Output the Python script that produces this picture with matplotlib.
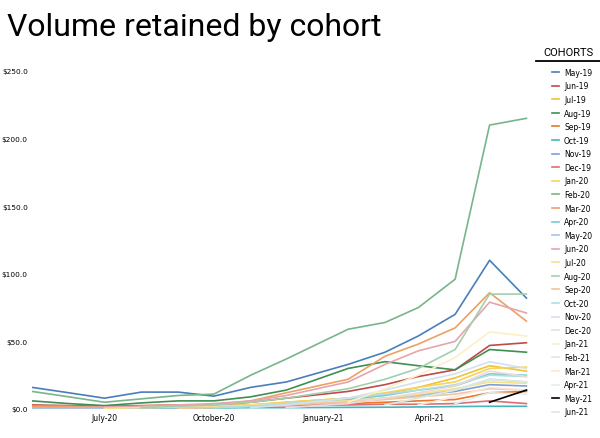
import matplotlib
matplotlib.use("Agg")
import matplotlib.pyplot as plt
from matplotlib.lines import Line2D
import numpy as np
import pandas as pd

# snapshot dates (x axis)
dates = pd.to_datetime([
    "2020-05-01", "2020-06-01", "2020-07-01", "2020-08-01", "2020-09-01",
    "2020-10-01", "2020-11-01", "2020-12-01", "2021-01-22", "2021-02-22",
    "2021-03-22", "2021-04-22", "2021-05-21", "2021-06-21",
])

cohorts = [
    "May-19", "Jun-19", "Jul-19", "Aug-19", "Sep-19", "Oct-19", "Nov-19",
    "Dec-19", "Jan-20", "Feb-20", "Mar-20", "Apr-20", "May-20", "Jun-20",
    "Jul-20", "Aug-20", "Sep-20", "Oct-20", "Nov-20", "Dec-20", "Jan-21",
    "Feb-21", "Mar-21", "Apr-21", "May-21", "Jun-21",
]

colors = [
    "#4a7ebb", "#be4b48", "#f1c232", "#3f8f52", "#e8762c", "#45b5bc",
    "#7e9fd8", "#e06c75", "#f4d35e", "#79b58a", "#eea062", "#7cc9cf",
    "#a7c4e2", "#e6a4ab", "#f7e08c", "#a3cfae", "#f2c4a0", "#b2dee0",
    "#d5e0ef", "#ecdadb", "#fbf0c5", "#dcebdd", "#fbe6d5", "#dff0f1",
    "#000000", "#e4e4e4",
]

N = None
# volume retained ($) per cohort at each date
may19 = [16, 12, 8, 12.5, 12.5, 9.5, 16, 20, 33, 42, 54, 70, 110, 82]
jun19 = [3, 2.5, 2, 2.5, 3, 3, 5, 8, 13, 18, 24, 29, 47, 49]
jul19 = [1, 1, 1, 1.5, 2, 2, 3, 5, 8, 11, 16, 23, 32, 28]
aug19 = [6, 4, 2.5, 4.5, 6, 6, 9, 14, 30, 35, 32, 29, 44, 42]
sep19 = [2.5, 2, 1.5, 1.5, 2, 2.5, 3, 3.5, 4, 5, 6, 7, 12, 13]
oct19 = [1, 0.8, 0.6, 0.7, 0.8, 0.8, 1, 1, 1.2, 1.3, 1.5, 1.8, 2, 2]
nov19 = [1, 1, 0.5, 1, 1.5, 1.5, 2, 3, 5, 8, 10, 13, 18, 17]
dec19 = [2, 1.5, 1, 1.2, 1.5, 1.5, 2, 2.5, 3, 3.5, 3.5, 4, 6, 4]
jan20 = [0.5, 0.5, 0.5, 1, 1.5, 2, 3, 5, 8, 12, 16, 20, 30, 31]
feb20 = [13, 9, 5, 7.5, 10, 11, 25, 37, 59, 64, 75, 96, 210, 215]
mar20 = [2, 2, 1, 2, 3, 3, 6, 12, 22, 39, 48, 60, 86, 65]
apr20 = [0.5, 0.5, 0.5, 1, 1, 1.5, 2, 4, 7, 10, 14, 17, 26, 25]
may20 = [0.5, 0.5, 0.5, 0.8, 1, 1.5, 2, 3, 6, 8, 10, 14, 22, 20]
jun20 = [N, 1, 1.5, 2, 3, 4, 6, 10, 20, 33, 43, 50, 79, 71]
jul20 = [N, N, 0.5, 1, 1.5, 2, 3, 4, 6, 8, 11, 15, 20, 19]
aug20 = [N, N, N, 1, 2, 3, 5, 8, 15, 22, 30, 44, 85, 85]
sep20 = [N, N, N, N, 0.5, 1, 2, 3, 5, 7, 9, 11, 15, 14]
oct20 = [N, N, N, N, N, 1, 2, 4, 8, 11, 14, 18, 25, 24]
nov20 = [N, N, N, N, N, N, 1, 3, 8, 14, 20, 26, 35, 30]
dec20 = [N, N, N, N, N, N, N, 1, 4, 8, 12, 17, 28, 24]
jan21 = [N, N, N, N, N, N, N, N, 5, 15, 25, 38, 57, 54]
feb21 = [N, N, N, N, N, N, N, N, N, 3, 8, 14, 22, 20]
mar21 = [N, N, N, N, N, N, N, N, N, N, 3, 9, 16, 14]
apr21 = [N, N, N, N, N, N, N, N, N, N, N, 4, 12, 11]
may21 = [N, N, N, N, N, N, N, N, N, N, N, N, 5, 14]
jun21 = [N, N, N, N, N, N, N, N, N, N, N, N, N, 3]

series = [may19, jun19, jul19, aug19, sep19, oct19, nov19, dec19, jan20,
          feb20, mar20, apr20, may20, jun20, jul20, aug20, sep20, oct20,
          nov20, dec20, jan21, feb21, mar21, apr21, may21, jun21]

tick_dates = pd.to_datetime(["2020-07-01", "2020-10-01", "2021-01-01", "2021-04-01"])
tick_labels = ["July-20", "October-20", "January-21", "April-21"]
y_ticks = [0, 50, 100, 150, 200, 250]

fig = plt.figure(figsize=(6.0, 4.39), dpi=100)
ax = fig.add_axes([32 / 600, 29 / 439, 498 / 600, 338 / 439])

handles = []
for name, vals, c in zip(cohorts, series, colors):
    y = np.array([np.nan if v is None else v for v in vals], dtype=float)
    ln, = ax.plot(dates, y, color=c, lw=1.2, label=name)
    handles.append(ln)

ax.set_ylim(0, 250)
ax.set_xlim(pd.Timestamp("2020-05-01"), pd.Timestamp("2021-06-24"))
ax.set_yticks(y_ticks)
ax.set_yticklabels(["$%.1f" % v for v in y_ticks], fontsize=5.3)
ax.set_xticks(tick_dates)
ax.set_xticklabels(tick_labels, fontsize=5.5)
ax.tick_params(length=0, pad=3)
for s in ax.spines.values():
    s.set_visible(False)

fig.text(7 / 600, 1 - 28 / 439, "Volume retained by cohort", fontsize=23,
         family="Roboto", weight="normal", color="black", va="center", ha="left")

fig.text(568 / 600, 1 - 53 / 439, "COHORTS", fontsize=8, family="Roboto",
         weight="normal", color="black", ha="center", va="center")
fig.add_artist(Line2D([536 / 600, 600 / 600], [1 - 62 / 439, 1 - 62 / 439],
                      color="black", lw=1.3))

fig.legend(handles, cohorts, loc="upper left",
           bbox_to_anchor=(548 / 600, 1 - 65 / 439), frameon=False,
           fontsize=5.5, handlelength=1.0, handletextpad=0.6,
           labelspacing=0.6, borderpad=0)

fig.savefig("out.png", dpi=100)
